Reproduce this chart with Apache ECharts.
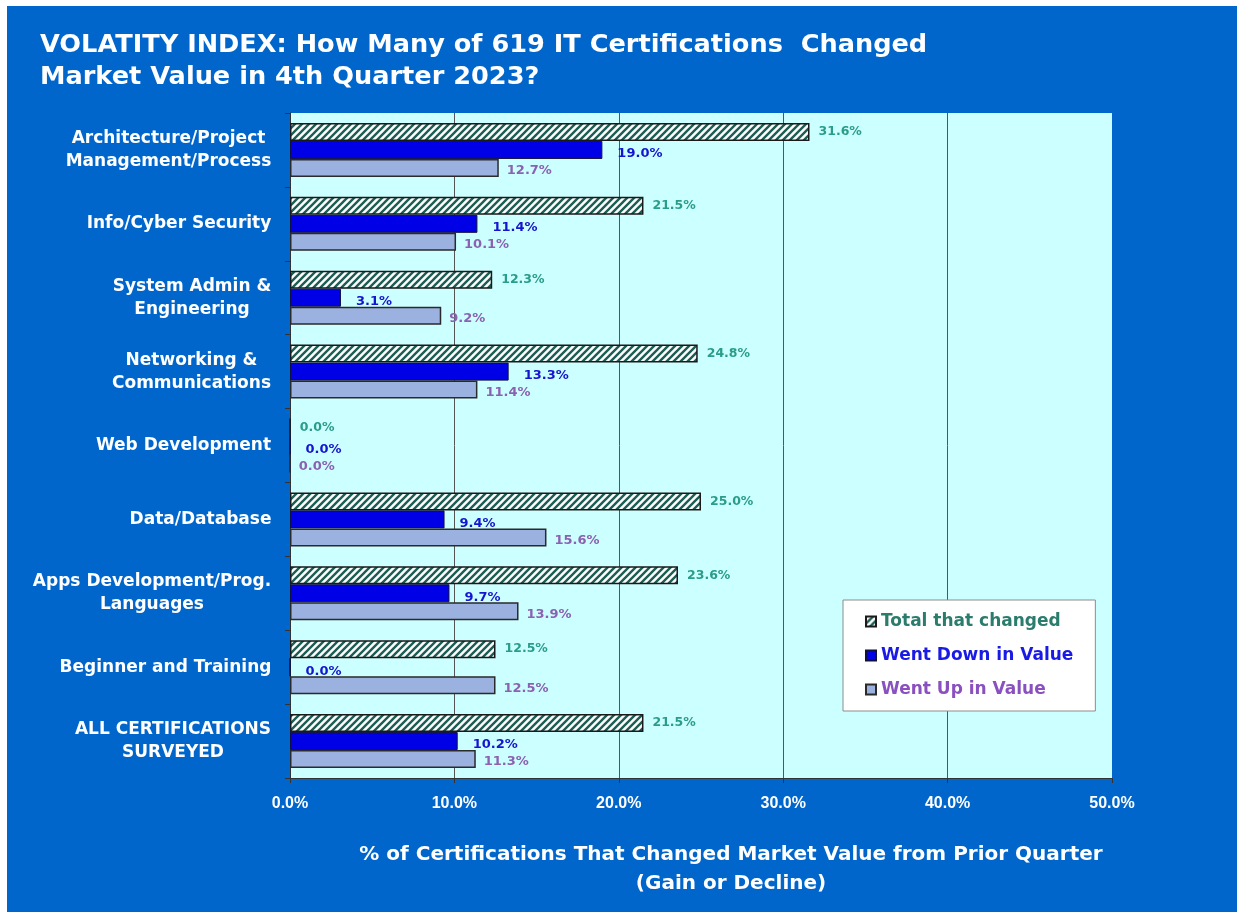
<!DOCTYPE html>
<html>
<head>
<meta charset="utf-8">
<script src="https://cdn.jsdelivr.net/npm/echarts@6/dist/echarts.min.js"></script>
<style>
  html, body { margin: 0; padding: 0; background: #ffffff; }
  #main { position: absolute; left: 7px; top: 6px; width: 1230px; height: 906px; background: #0066cc; }
</style>
</head>
<body>
<div id="main"></div>
<script>
var categories = [
	'Architecture/Project\nManagement/Process',
	'Info/Cyber Security',
	'System Admin &\nEngineering',
	'Networking &\nCommunications',
	'Web Development',
	'Data/Database',
	'Apps Development/Prog.\nLanguages',
	'Beginner and Training',
	'ALL CERTIFICATIONS\nSURVEYED'
];
var totalChanged = [31.6, 21.5, 12.3, 24.8, 0.0, 25.0, 23.6, 12.5, 21.5];
var wentDown = [19.0, 11.4, 3.1, 13.3, 0.0, 9.4, 9.7, 0.0, 10.2];
var wentUp = [12.7, 10.1, 9.2, 11.4, 0.0, 15.6, 13.9, 12.5, 11.3];
var xTicks = [0, 10, 20, 30, 40, 50];

var catFont = 'bold 17px "DejaVu Sans"';

// hatched fill for the "total" bars
var hatch = document.createElement('canvas');
hatch.width = 7;
hatch.height = 7;
var hc = hatch.getContext('2d');
hc.fillStyle = '#ffffff';
hc.fillRect(0, 0, 7, 7);
hc.strokeStyle = '#1d5e54';
hc.lineWidth = 2.4;
hc.beginPath();
hc.moveTo(-1, 8); hc.lineTo(8, -1);
hc.moveTo(-2, 2); hc.lineTo(2, -2);
hc.moveTo(5, 9); hc.lineTo(9, 5);
hc.stroke();

// each category label: lines centred in a box, box right-aligned to the axis
var meas = document.createElement('canvas').getContext('2d');
meas.font = catFont;
var rich = {};
categories.forEach(function(c, i) {
	var w = 0;
	c.split('\n').forEach(function(line) {
		w = Math.max(w, meas.measureText(line).width);
	});
	rich['c' + i] = {
		width: Math.ceil(w) + 1,
		align: 'center',
		color: '#ffffff',
		fontFamily: 'DejaVu Sans',
		fontWeight: 'bold',
		fontSize: 17,
		lineHeight: 23
	};
});

var myChart = echarts.init(document.getElementById('main'));
var option = {
	animation: false,
	title: {
		text: 'VOLATITY INDEX: How Many of 619 IT Certifications  Changed\nMarket Value in 4th Quarter 2023?',
		left: 33,
		top: 23,
		padding: 0,
		textStyle: {
			color: '#ffffff',
			fontFamily: 'DejaVu Sans',
			fontWeight: 'bold',
			fontSize: 25.6,
			lineHeight: 32
		}
	},
	legend: {
		orient: 'vertical',
		left: 836,
		top: 594,
		padding: [13, 22, 13, 22],
		itemGap: 17,
		itemWidth: 10,
		itemHeight: 10,
		icon: 'rect',
		backgroundColor: '#ffffff',
		borderColor: '#8c8c8c',
		borderWidth: 1,
		textStyle: {
			fontFamily: 'DejaVu Sans',
			fontWeight: 'bold',
			fontSize: 17
		},
		data: [
			{ name: 'Total that changed', textStyle: { color: '#2b7c6c' } },
			{ name: 'Went Down in Value', textStyle: { color: '#1a1ae6' } },
			{ name: 'Went Up in Value', textStyle: { color: '#8a50c0' } }
		]
	},
	grid: {
		left: 283,
		top: 107,
		right: 125,
		bottom: 134,
		show: true,
		backgroundColor: '#ccffff',
		borderWidth: 0
	},
	xAxis: {
		type: 'value',
		min: xTicks[0],
		max: xTicks[xTicks.length - 1],
		interval: 10,
		axisLine: { show: true, lineStyle: { color: '#333333', width: 1 } },
		axisTick: { show: true, length: 5, lineStyle: { color: '#333333' } },
		splitLine: { show: true, showMaxLine: false, lineStyle: { color: '#555555', width: 1 } },
		axisLabel: {
			margin: 18,
			color: '#ffffff',
			fontFamily: 'Liberation Sans',
			fontWeight: 'bold',
			fontSize: 16,
			formatter: function(v) { return v.toFixed(1) + '%'; }
		},
		name: '% of Certifications That Changed Market Value from Prior Quarter\n(Gain or Decline)',
		nameLocation: 'middle',
		nameGap: 62,
		nameTextStyle: {
			color: '#ffffff',
			fontFamily: 'DejaVu Sans',
			fontWeight: 'bold',
			fontSize: 20,
			lineHeight: 29,
			padding: [0, 0, 0, 60]
		}
	},
	yAxis: {
		type: 'category',
		inverse: true,
		data: categories,
		axisLine: { show: true, lineStyle: { color: '#333333', width: 1 } },
		axisTick: { show: true, length: 5, lineStyle: { color: '#333333' } },
		axisLabel: {
			margin: 18,
			align: 'right',
			formatter: function(v, i) { return '{c' + i + '|' + v + '}'; },
			rich: rich
		}
	},
	series: [{
		name: 'Total that changed',
		type: 'bar',
		data: totalChanged,
		barWidth: 18,
		barGap: '0%',
		itemStyle: {
			color: { image: hatch, repeat: 'repeat' },
			borderColor: '#1a1a1a',
			borderWidth: 1.5
		},
		label: {
			show: true,
			position: 'right',
			distance: 9,
			color: '#2a9d8a',
			fontFamily: 'DejaVu Sans',
			fontWeight: 'bold',
			fontSize: 12.5,
			formatter: function(p) { return p.value.toFixed(1) + '%'; }
		}
	}, {
		name: 'Went Down in Value',
		type: 'bar',
		data: wentDown,
		barWidth: 18,
		barGap: '0%',
		itemStyle: {
			color: '#0000e6',
			borderColor: '#101040',
			borderWidth: 1
		},
		label: {
			show: true,
			position: 'right',
			distance: 15,
			offset: [0, 4],
			color: '#1515d0',
			fontFamily: 'DejaVu Sans',
			fontWeight: 'bold',
			fontSize: 13,
			formatter: function(p) { return p.value.toFixed(1) + '%'; }
		}
	}, {
		name: 'Went Up in Value',
		type: 'bar',
		data: wentUp,
		barWidth: 18,
		barGap: '0%',
		itemStyle: {
			color: '#9bb2e0',
			borderColor: '#2a2a2a',
			borderWidth: 1.5
		},
		label: {
			show: true,
			position: 'right',
			distance: 8,
			offset: [0, 3],
			color: '#8a62b0',
			fontFamily: 'DejaVu Sans',
			fontWeight: 'bold',
			fontSize: 13,
			formatter: function(p) { return p.value.toFixed(1) + '%'; }
		}
	}]
};
myChart.setOption(option);
</script>
</body>
</html>
